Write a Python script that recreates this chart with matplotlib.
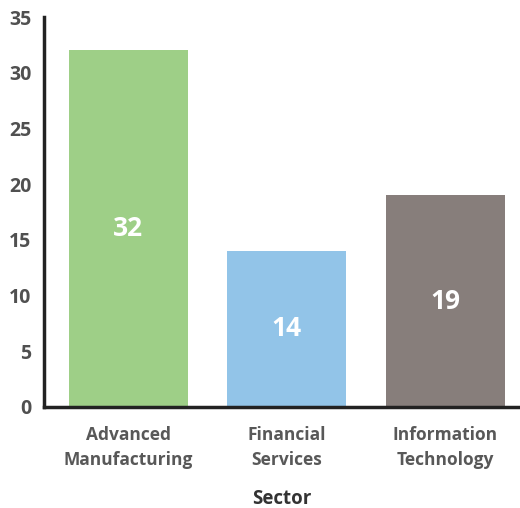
import matplotlib.pyplot as plt

sectors = ["Advanced\nManufacturing", "Financial\nServices", "Information\nTechnology"]
values = [32, 14, 19]
colors = ["#9ecf87", "#92c4e8", "#877e7b"]
y_ticks = [0, 5, 10, 15, 20, 25, 30, 35]

plt.rcParams["font.family"] = ["Open Sans", "DejaVu Sans"]

fig = plt.figure(figsize=(5.2, 5.08), dpi=100)
ax = fig.add_axes([0.0846, 0.199, 0.9154, 0.7675])

positions = list(range(len(sectors)))
bars = ax.bar(positions, values, width=0.75, color=colors)

for pos, val in zip(positions, values):
    ax.text(pos, val / 2, str(val), ha="center", va="center",
            color="white", fontsize=19, fontweight="bold")

ax.set_xlim(-0.53, 2.47)
ax.set_ylim(0, 35)
ax.set_yticks(y_ticks)
ax.set_xticks(positions)
ax.set_xticklabels(sectors, fontsize=12.5, fontweight="bold", color="#585858",
                   linespacing=1.5)
ax.tick_params(axis="y", labelsize=14, labelcolor="#505050", length=0, pad=9)
ax.tick_params(axis="x", length=0, pad=14)
for lbl in ax.get_yticklabels():
    lbl.set_fontweight("bold")

ax.set_xlabel("Sector", fontsize=13.5, fontweight="bold", color="#333333", labelpad=14.5)

ax.spines["top"].set_visible(False)
ax.spines["right"].set_visible(False)
for side in ["left", "bottom"]:
    ax.spines[side].set_linewidth(2.5)
    ax.spines[side].set_color("#222222")

fig.savefig("out.png", dpi=100)
